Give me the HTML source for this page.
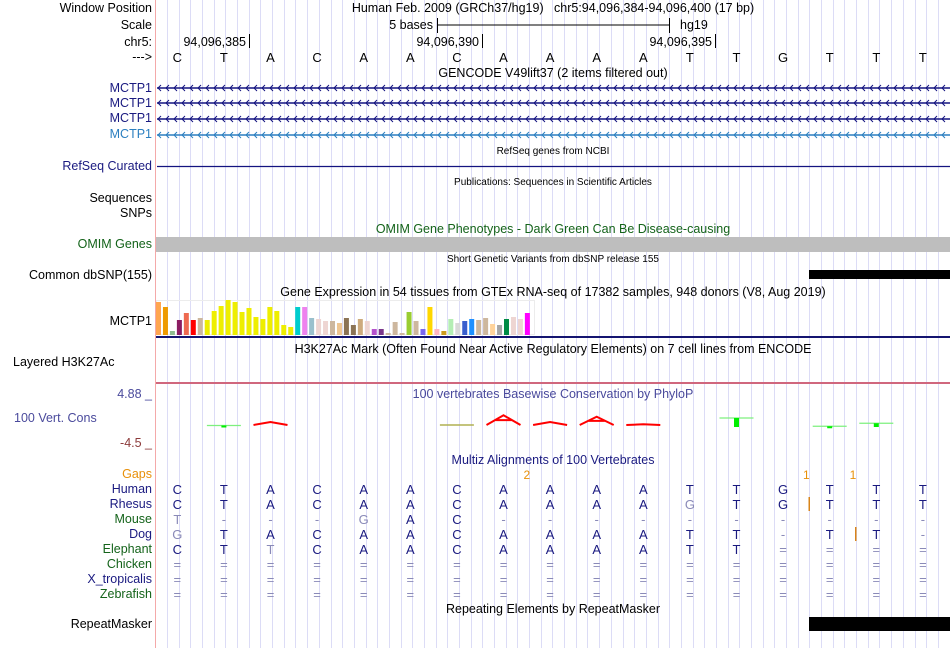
<!DOCTYPE html>
<html><head><meta charset="utf-8">
<style>
html,body{margin:0;padding:0;background:#fff;}
#root{position:relative;width:950px;height:648px;overflow:hidden;font-family:"Liberation Sans",Arial,sans-serif;font-size:12.5px;color:#000;}
.t{position:absolute;white-space:nowrap;line-height:14px;}
.lab{position:absolute;right:798px;white-space:nowrap;line-height:14px;text-align:right;}
.ctr{position:absolute;left:553px;transform:translateX(-50%);white-space:nowrap;line-height:14px;}
.sm{font-size:10px;}
svg{position:absolute;left:0;top:0;}
</style></head>
<body>
<div id="root">
<svg id="grid" width="950" height="648"></svg>
<svg id="marks" width="950" height="648"></svg>

<div class="lab" style="top:1px">Window Position</div>
<div class="lab" style="top:18px">Scale</div>
<div class="lab" style="top:35px">chr5:</div>
<div class="lab" style="top:50px">---&gt;</div>
<div class="ctr" style="top:1px">Human Feb. 2009 (GRCh37/hg19)&nbsp;&nbsp;&nbsp;chr5:94,096,384-94,096,400 (17 bp)</div>
<div class="t" style="top:18px;right:517px">5 bases</div>
<div class="t" style="top:18px;left:680px">hg19</div>
<div class="t" style="top:35px;right:704px">94,096,385</div>
<div class="t" style="top:35px;right:471px">94,096,390</div>
<div class="t" style="top:35px;right:238px">94,096,395</div>
<div class="ctr" style="top:66px">GENCODE V49lift37 (2 items filtered out)</div>
<div class="lab" style="top:81px;color:#1a1a80">MCTP1</div>
<div class="lab" style="top:96px;color:#1a1a80">MCTP1</div>
<div class="lab" style="top:111px;color:#1a1a80">MCTP1</div>
<div class="lab" style="top:127px;color:#2b7fc0">MCTP1</div>
<div class="ctr sm" style="top:145px">RefSeq genes from NCBI</div>
<div class="lab" style="top:159px;color:#1a1a80">RefSeq Curated</div>
<div class="ctr sm" style="top:176px">Publications: Sequences in Scientific Articles</div>
<div class="lab" style="top:191px">Sequences</div>
<div class="lab" style="top:206px">SNPs</div>
<div class="ctr" style="top:222px;color:#14631a">OMIM Gene Phenotypes - Dark Green Can Be Disease-causing</div>
<div class="lab" style="top:237px;color:#14631a">OMIM Genes</div>
<div class="ctr sm" style="top:253px">Short Genetic Variants from dbSNP release 155</div>
<div class="lab" style="top:268px">Common dbSNP(155)</div>
<div class="ctr" style="top:285px">Gene Expression in 54 tissues from GTEx RNA-seq of 17382 samples, 948 donors (V8, Aug 2019)</div>
<div class="lab" style="top:314px">MCTP1</div>
<div class="ctr" style="top:342px">H3K27Ac Mark (Often Found Near Active Regulatory Elements) on 7 cell lines from ENCODE</div>
<div class="t" style="top:355px;left:13px">Layered H3K27Ac</div>
<div class="ctr" style="top:387px;color:#4a4a9c">100 vertebrates Basewise Conservation by PhyloP</div>
<div class="lab" style="top:387px;color:#4a4a9c">4.88 _</div>
<div class="t" style="top:411px;left:14px;color:#4a4a9c">100 Vert. Cons</div>
<div class="lab" style="top:436px;color:#8c3a3a">-4.5 _</div>
<div class="ctr" style="top:453px;color:#1a1a80">Multiz Alignments of 100 Vertebrates</div>
<div class="lab" style="top:467px;color:#e8900a">Gaps</div>
<div id="species"></div>
<div class="ctr" style="top:602px">Repeating Elements by RepeatMasker</div>
<div class="lab" style="top:617px">RepeatMasker</div>
</div>

<script>
// ---- data ----
const bases = ["C","T","A","C","A","A","C","A","A","A","A","T","T","G","T","T","T"];
const species = ["Human","Rhesus","Mouse","Dog","Elephant","Chicken","X_tropicalis","Zebrafish"];
const speciesGreen = [false,false,true,false,true,true,false,true];
const alnHuman    = ["C","T","A","C","A","A","C","A","A","A","A","T","T","G","T","T","T"];
const alnRhesus   = ["C","T","A","C","A","A","C","A","A","A","A","G","T","G","T","T","T"];
const alnMouse    = ["T","-","-","-","G","A","C","-","-","-","-","-","-","-","-","-","-"];
const alnDog      = ["G","T","A","C","A","A","C","A","A","A","A","T","T","-","T","T","-"];
const alnElephant = ["C","T","T","C","A","A","C","A","A","A","A","T","T","=","=","=","="];
const alnChicken  = ["=","=","=","=","=","=","=","=","=","=","=","=","=","=","=","=","="];
const alnXtrop    = ["=","=","=","=","=","=","=","=","=","=","=","=","=","=","=","=","="];
const alnZebra    = ["=","=","=","=","=","=","=","=","=","=","=","=","=","=","=","=","="];
const gapPositions = [7.5, 13.5, 14.5];   // base-index boundaries
const gapCounts = ["2","1","1"];
const gtexValues = [33,28,4,15,22,15,17,15,24,29,35,33,23,27,18,16,28,24,10,8,28,28,17,16,14,14,12,17,10,16,14,6,6,2,13,2,23,14,6,28,6,4,16,12,14,16,15,17,11,10,16,18,16,22];
const gtexColors = ["#FFA54F","#EE9A00","#8FBC8F","#8B1C62","#EE6A50","#FF0000","#CDB79E","#EEEE00","#EEEE00","#EEEE00","#EEEE00","#EEEE00","#EEEE00","#EEEE00","#EEEE00","#EEEE00","#EEEE00","#EEEE00","#EEEE00","#EEEE00","#00CDCD","#EE82EE","#9AC0CD","#EED5D2","#EED5D2","#CDB79E","#EEC591","#8B7355","#8B7355","#CDAA7D","#EED5D2","#B452CD","#7A378B","#CDB79E","#CDB79E","#CDB79E","#9ACD32","#CDB79E","#7A67EE","#FFD700","#FFB6C1","#CD9B1D","#B4EEB4","#D9D9D9","#3A5FCD","#1E90FF","#CDB79E","#CDB79E","#FFD39B","#A6A6A6","#008B45","#EED5D2","#EED5D2","#FF00FF"];
const phylopScores = [0,-0.2,0.4,0,0,0,-0.05,1.3,0.4,1.1,0.1,0,-1.2,0,-0.1,-0.5,0];

// ---- scales ----
const X0=154, BW=46.6;
const bx = i => X0 + BW*(i+0.5);
const NS="http://www.w3.org/2000/svg";
function mk(parent,tag,attrs){const e=document.createElementNS(NS,tag);for(const k in attrs)e.setAttribute(k,attrs[k]);parent.appendChild(e);return e;}

// grid
const g=document.getElementById('grid');
mk(g,'rect',{x:155,y:0,width:1,height:648,fill:'#f4a9a9'});
for(let x=167;x<950;x+=11.68){mk(g,'rect',{x:Math.round(x),y:0,width:1,height:648,fill:'#dcdcf6'});}

const m=document.getElementById('marks');
// scale bar
mk(m,'line',{x1:437,y1:25,x2:669,y2:25,stroke:'#000'});
mk(m,'line',{x1:437.5,y1:18,x2:437.5,y2:33,stroke:'#000'});
mk(m,'line',{x1:669.5,y1:18,x2:669.5,y2:33,stroke:'#000'});
[249.5,482.5,715.5].forEach(x=>mk(m,'line',{x1:x,y1:34,x2:x,y2:48,stroke:'#000'}));

// bases
bases.forEach((b,i)=>{const t=mk(m,'text',{x:bx(i),y:62,'text-anchor':'middle','font-size':'13','font-family':'Liberation Sans'});t.textContent=b;

});

// gene lines with chevrons
const geneYs=[88,103,119,135], geneCols=['#141480','#141480','#141480','#2b7fc0'];
geneYs.forEach((y,k)=>{
  const gg=mk(m,'g',{stroke:geneCols[k],fill:'none','stroke-width':'1'});
  
  
  mk(gg,'line',{x1:157,y1:y,x2:950,y2:y,'stroke-width':'1.6'});
  for(let x=158;x<950;x+=8){mk(gg,'polyline',{points:`${x+3},${y-3} ${x},${y} ${x+3},${y+3}`});}
});
const rs=mk(m,'line',{x1:157,y1:166.5,x2:950,y2:166.5,stroke:'#141480','stroke-width':'1.2'});


const om=mk(m,'rect',{x:156,y:237,width:794,height:15,fill:'#bebebe'});


const ds=mk(m,'rect',{x:809,y:270,width:141,height:9,fill:'#000'});



// GTEx bars
mk(m,'rect',{x:156.5,y:300.5,width:378,height:34,fill:'none',stroke:'#ececec'});
const gx0=156, gp=6.96, gBase=335, gScale=1;
gtexValues.forEach((v,i)=>{
  const r=mk(m,'rect',{x:gx0+i*gp,y:gBase-v*gScale,width:5,height:v*gScale,fill:gtexColors[i]});
  
  
});
mk(m,'rect',{x:156,y:336,width:794,height:2,fill:'#141470'});
mk(m,'rect',{x:156,y:382,width:794,height:2,fill:'#d0677d'});

// PhyloP
const pZero=425, pScale=7.5;
phylopScores.forEach((s,i)=>{
  if(s===0)return;
  const cx=bx(i), h=Math.abs(s)*pScale;
  const gg=mk(m,'g',{});
  
  
  if(s>0.05){
    mk(gg,'polyline',{points:`${cx-17},${pZero} ${cx},${pZero-h} ${cx+17},${pZero}`,fill:'none',stroke:'#f00','stroke-width':'2'});
    if(s>0.9) mk(gg,'line',{x1:cx-8,y1:pZero-h/2,x2:cx+8,y2:pZero-h/2,stroke:'#f00','stroke-width':'2'});
  } else if(s>-0.1){
    mk(gg,'line',{x1:cx-17,y1:pZero,x2:cx+17,y2:pZero,stroke:'#b0b050','stroke-width':'1.5'});
  } else {
    const top=pZero+2-h;
    mk(gg,'line',{x1:cx-17,y1:top,x2:cx+17,y2:top,stroke:'#7ef07e','stroke-width':'1.2'});
    mk(gg,'rect',{x:cx-2.5,y:top,width:5,height:Math.max(2,h),fill:'#0e0'});
  }
});

// species labels and alignment
const rows=[alnHuman,alnRhesus,alnMouse,alnDog,alnElephant,alnChicken,alnXtrop,alnZebra];
species.forEach((s,r)=>{
  const d=document.createElement('div');d.className='lab';d.style.top=(482+r*15)+'px';
  d.style.color=speciesGreen[r]?'#14631a':'#1a1a80';d.textContent=s;
  
  
  document.getElementById('species').appendChild(d);
  rows[r].forEach((c,i)=>{
    const diff=(r>0 && c!==alnHuman[i] && c!=='-' && c!=='=');
    const grey = c==='-'||c==='='||diff;
    const t=mk(m,'text',{x:bx(i),y:494+r*15,'text-anchor':'middle','font-size':'13','font-family':'Liberation Sans',fill:grey?'#8a8ab8':'#1a1a80'});
    t.textContent=c;
    
    
  });
});
gapPositions.forEach((p,k)=>{
  const x=X0+BW*(p+0.5);
  const t=mk(m,'text',{x:x,y:479,'text-anchor':'middle','font-size':'12','font-family':'Liberation Sans',fill:'#e8900a'});
  t.textContent=gapCounts[k];
  
  
});
mk(m,'rect',{x:808.5,y:497,width:1.5,height:14,fill:'#d8841a'});
mk(m,'rect',{x:855,y:527,width:1.5,height:14,fill:'#d8841a'});
const rm=mk(m,'rect',{x:809,y:617,width:141,height:14,fill:'#000'});


</script>
</body></html>
